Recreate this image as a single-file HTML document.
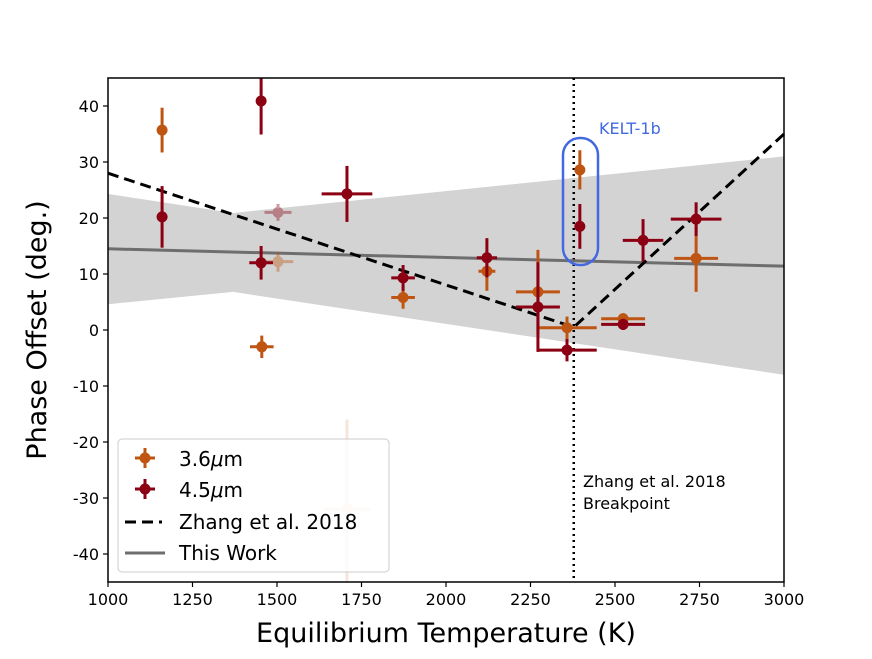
<!DOCTYPE html>
<html><head><meta charset="utf-8"><style>
body{margin:0;background:#fff}
svg text{font-family:"DejaVu Sans","Liberation Sans",sans-serif}
</style></head><body>
<svg id="chart" width="872" height="654" viewBox="0 0 872 654" xmlns="http://www.w3.org/2000/svg">
<g id="band"></g>
<g id="lines"></g>
<g id="pts"></g>
<g id="axes"></g>
</svg>
<script>
const NS="http://www.w3.org/2000/svg";
const L=108,R=784,T=78,B=582,xmin=1000,xmax=3000,ymin=-45,ymax=45;
const xs=v=>L+(v-xmin)/(xmax-xmin)*(R-L);
const ys=v=>B-(v-ymin)/(ymax-ymin)*(B-T);
const xTicks=[1000,1250,1500,1750,2000,2250,2500,2750,3000];
const yTicks=[-40,-30,-20,-10,0,10,20,30,40];
const bandT=[1000,1370,3000];
const bandUpper=[24.3,20.9,31];
const bandLower=[4.6,6.8,-8];
const workT=[1000,3000];
const workY=[14.5,11.4];
const zhangT=[1000,2378,3000];
const zhangY=[28,0.5,35];
const breakT=2378;
// 3.6um: temp, offset, xerr, yerr, alpha
const t36=[1160,1455,1503,1707,1873,2121,2272,2358,2524,2740,2396];
const y36=[35.7,-3,12.2,-32,5.8,10.5,6.8,0.4,2,12.8,28.6];
const xe36=[0,35,45,70,35,25,65,88,65,65,10];
const ye36=[4,2,1.8,16,2,3.5,7.5,2,1,6,3.5];
const a36=[1,1,0.4,0.15,1,1,1,1,1,1,1];
const t45=[1160,1453,1453,1503,1707,1873,2121,2272,2358,2396,2524,2583,2740];
const y45=[20.2,40.9,12,21,24.3,9.3,12.9,4.1,-3.6,18.5,1,16,19.8];
const xe45=[0,0,35,40,75,35,30,65,88,10,65,60,75];
const ye45=[5.5,6,3,1.5,5,2.3,3.5,8,2,4,1,3.8,3];
const a45=[1,1,1,0.4,1,1,1,1,1,1,1,1,1];
function mk(tag,at,par){const e=document.createElementNS(NS,tag);for(const k in at)e.setAttribute(k,at[k]);(par||document.getElementById('chart')).appendChild(e);return e;}
const band=document.getElementById('band'),lines=document.getElementById('lines'),pts=document.getElementById('pts'),axes=document.getElementById('axes');
// band
let d='';bandT.forEach((t,i)=>d+=(i?'L':'M')+xs(t)+','+ys(bandUpper[i]));
for(let i=bandT.length-1;i>=0;i--)d+='L'+xs(bandT[i])+','+ys(bandLower[i]);
const bp=mk('path',{d:d+'Z',fill:'#d3d3d3'},band);


// breakpoint
const bl=mk('line',{x1:xs(breakT),x2:xs(breakT),y1:T,y2:B,stroke:'#000','stroke-width':2.5,'stroke-dasharray':'2,4'},lines);


const wl=mk('polyline',{points:workT.map((t,i)=>xs(t)+','+ys(workY[i])).join(' '),stroke:'#6e6e6e','stroke-width':3,fill:'none'},lines);


const zl=mk('polyline',{points:zhangT.map((t,i)=>xs(t)+','+ys(zhangY[i])).join(' '),stroke:'#000','stroke-width':3,fill:'none','stroke-dasharray':'11,6'},lines);


function drawPts(ts,yv,xe,ye,al,col,name){ts.forEach((t,i)=>{
 const g=mk('g',{opacity:al[i]},pts);
 
 
 const cx=xs(t),cy=ys(yv[i]);
 if(xe[i]>0)mk('line',{x1:xs(t-xe[i]),x2:xs(t+xe[i]),y1:cy,y2:cy,stroke:col,'stroke-width':3},g);
 mk('line',{x1:cx,x2:cx,y1:ys(yv[i]+ye[i]),y2:ys(yv[i]-ye[i]),stroke:col,'stroke-width':3},g);
 mk('circle',{cx:cx,cy:cy,r:5.5,fill:col},g);
});}
const C36='#bf5513',C45='#8b0013';
drawPts(t36,y36,xe36,ye36,a36,C36,'3.6um');
drawPts(t45,y45,xe45,ye45,a45,C45,'4.5um');
// clip area outside
mk('rect',{x:0,y:0,width:872,height:T,fill:'#fff'},axes);
mk('rect',{x:0,y:B,width:872,height:72,fill:'#fff'},axes);
const fr=mk('rect',{x:L,y:T,width:R-L,height:B-T,fill:'none',stroke:'#000','stroke-width':1.5},axes);


xTicks.forEach(v=>{mk('line',{x1:xs(v),x2:xs(v),y1:B,y2:B+5,stroke:'#000','stroke-width':1.2},axes);
 const tx=mk('text',{x:xs(v),y:B+23,'font-size':16,'text-anchor':'middle'},axes);tx.textContent=v;
 
 });
yTicks.forEach(v=>{mk('line',{x1:L-5,x2:L,y1:ys(v),y2:ys(v),stroke:'#000','stroke-width':1.2},axes);
 const tx=mk('text',{x:L-9,y:ys(v)+6,'font-size':16,'text-anchor':'end'},axes);tx.textContent=v;
 
 });
</script>
<svg style="position:absolute;left:0;top:0" width="872" height="654">
<text x="446" y="642" font-size="27" text-anchor="middle" font-family="DejaVu Sans,sans-serif">Equilibrium Temperature (K)</text>
<text transform="translate(46,330) rotate(-90)" font-size="27" text-anchor="middle" font-family="DejaVu Sans,sans-serif">Phase Offset (deg.)</text>
<rect x="563" y="138" width="35" height="127" rx="17" fill="none" stroke="#4169e1" stroke-width="2.5"/>
<text x="599" y="134" font-size="16" fill="#4169e1" font-family="DejaVu Sans,sans-serif">KELT-1b</text>
<text x="583" y="487" font-size="16" font-family="DejaVu Sans,sans-serif">Zhang et al. 2018</text>
<text x="583" y="509" font-size="16" font-family="DejaVu Sans,sans-serif">Breakpoint</text>
<g font-family="DejaVu Sans,sans-serif" font-size="20">
<rect x="118" y="439" width="271" height="133" rx="4" fill="#fff" fill-opacity="0.8" stroke="#ccc"/>
<g><line x1="135" x2="155" y1="458" y2="458" stroke="#bf5513" stroke-width="3"/><line x1="145" x2="145" y1="448" y2="468" stroke="#bf5513" stroke-width="3"/><circle cx="145" cy="458" r="5.5" fill="#bf5513"/><text x="179" y="466">3.6<tspan font-style="italic">μ</tspan>m</text></g>
<g><line x1="135" x2="155" y1="489" y2="489" stroke="#8b0013" stroke-width="3"/><line x1="145" x2="145" y1="479" y2="499" stroke="#8b0013" stroke-width="3"/><circle cx="145" cy="489" r="5.5" fill="#8b0013"/><text x="179" y="497">4.5<tspan font-style="italic">μ</tspan>m</text></g>
<g><line x1="125" x2="162" y1="522" y2="522" stroke="#000" stroke-width="3" stroke-dasharray="11,6"/><text x="179" y="529">Zhang et al. 2018</text></g>
<g><line x1="125" x2="165" y1="553" y2="553" stroke="#6e6e6e" stroke-width="3"/><text x="179" y="560">This Work</text></g>
</g>
</svg>
</body></html>
